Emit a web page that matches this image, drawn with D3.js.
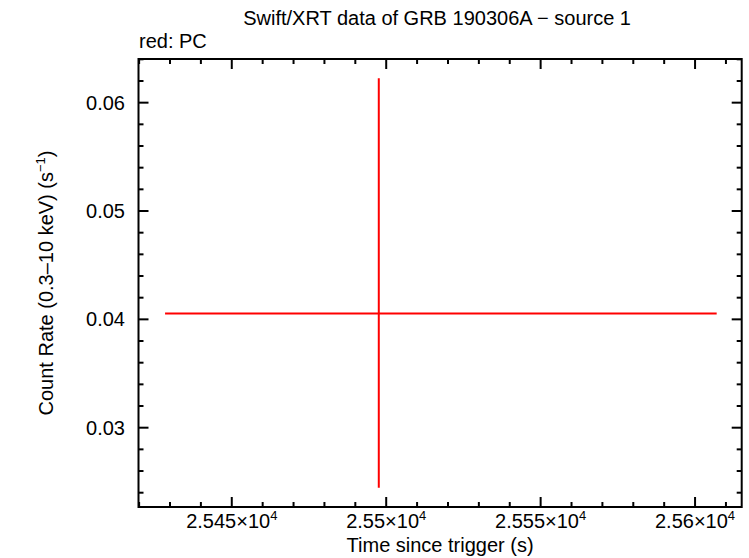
<!DOCTYPE html>
<html>
<head>
<meta charset="utf-8">
<script src="https://cdn.jsdelivr.net/npm/d3@7"></script>
<style>
  body { margin: 0; background: #fff; }
  text { font-family: "Liberation Sans", Arial, sans-serif; fill: #000; }
</style>
</head>
<body>
<div id="chart"></div>
<script>
// data (PC mode, one bin)
const times = [25497.6];
const timeLo = [25428.4];
const timeHi = [25607.0];
const rates = [0.04053];
const rateLo = [0.02446];
const rateHi = [0.06225];

const xTicks = [25450, 25500, 25550, 25600];
const xTickLabels = ['2.545', '2.55', '2.555', '2.56'];
const yTicks = [0.03, 0.04, 0.05, 0.06];
const yTickLabels = ['0.03', '0.04', '0.05', '0.06'];

const width = 749, height = 558;
const margin = { left: 138.5, right: 749 - 741.7, top: 59, bottom: 558 - 507 };
const fs = 20;

const svg = d3.select('#chart').append('svg')
  .attr('width', width)
  .attr('height', height);

const x = d3.scaleLinear().domain([25419.8, 25615.1]).range([margin.left, width - margin.right]);
const y = d3.scaleLinear().domain([0.02268, 0.06403]).range([height - margin.bottom, margin.top]);

const x0 = x.range()[0], x1 = x.range()[1];
const y0 = y.range()[0], y1 = y.range()[1];

// minor ticks
const xMinor = d3.range(25420, 25615, 10);
const yMinor = d3.range(0.024, 0.0641, 0.002);

const ticks = svg.append('g').attr('stroke', '#000').attr('stroke-width', 2);
xMinor.forEach(v => {
  const major = xTicks.some(t => Math.abs(t - v) < 1e-6);
  const len = major ? 10 : 5;
  ticks.append('line').attr('x1', x(v)).attr('x2', x(v)).attr('y1', y0).attr('y2', y0 - len);
  ticks.append('line').attr('x1', x(v)).attr('x2', x(v)).attr('y1', y1).attr('y2', y1 + len);
});
yMinor.forEach(v => {
  const major = yTicks.some(t => Math.abs(t - v) < 1e-6);
  const len = major ? 10 : 5;
  ticks.append('line').attr('y1', y(v)).attr('y2', y(v)).attr('x1', x0).attr('x2', x0 + len);
  ticks.append('line').attr('y1', y(v)).attr('y2', y(v)).attr('x1', x1).attr('x2', x1 - len);
});

// frame
svg.append('rect')
  .attr('x', x0).attr('y', y1)
  .attr('width', x1 - x0).attr('height', y0 - y1)
  .attr('fill', 'none').attr('stroke', '#000').attr('stroke-width', 2);

// x tick labels
xTicks.forEach((t, i) => {
  const tx = svg.append('text')
    .attr('x', x(t)).attr('y', 528)
    .attr('text-anchor', 'middle')
    .attr('font-size', fs);
  tx.append('tspan').text(xTickLabels[i] + '×10');
  tx.append('tspan').attr('dy', -8).attr('font-size', 13).text('4');
});

// y tick labels
yTicks.forEach((t, i) => {
  svg.append('text')
    .attr('x', 125).attr('y', y(t) + 7)
    .attr('text-anchor', 'end')
    .attr('font-size', fs)
    .text(yTickLabels[i]);
});

// data: error crosses
const pts = svg.append('g').attr('stroke', '#ff0000').attr('stroke-width', 2);
times.forEach((t, i) => {
  pts.append('line')
    .attr('x1', x(timeLo[i])).attr('x2', x(timeHi[i]))
    .attr('y1', y(rates[i])).attr('y2', y(rates[i]));
  pts.append('line')
    .attr('x1', x(t)).attr('x2', x(t))
    .attr('y1', y(rateLo[i])).attr('y2', y(rateHi[i]));
});

// titles
svg.append('text')
  .attr('x', (x0 + x1) / 2 - 3).attr('y', 25)
  .attr('text-anchor', 'middle').attr('font-size', fs)
  .text('Swift/XRT data of GRB 190306A \u2212 source 1');

svg.append('text')
  .attr('x', 139).attr('y', 48)
  .attr('font-size', fs)
  .text('red: PC');

svg.append('text')
  .attr('x', (x0 + x1) / 2).attr('y', 552)
  .attr('text-anchor', 'middle').attr('font-size', fs)
  .text('Time since trigger (s)');

const yl = svg.append('text')
  .attr('transform', `translate(53, ${(y0 + y1) / 2}) rotate(-90)`)
  .attr('text-anchor', 'middle').attr('font-size', fs);
yl.append('tspan').text('Count Rate (0.3\u201310 keV) (s');
yl.append('tspan').attr('dy', -8).attr('font-size', 13).text('\u22121');
yl.append('tspan').attr('dy', 8).text(')');
</script>
</body>
</html>
